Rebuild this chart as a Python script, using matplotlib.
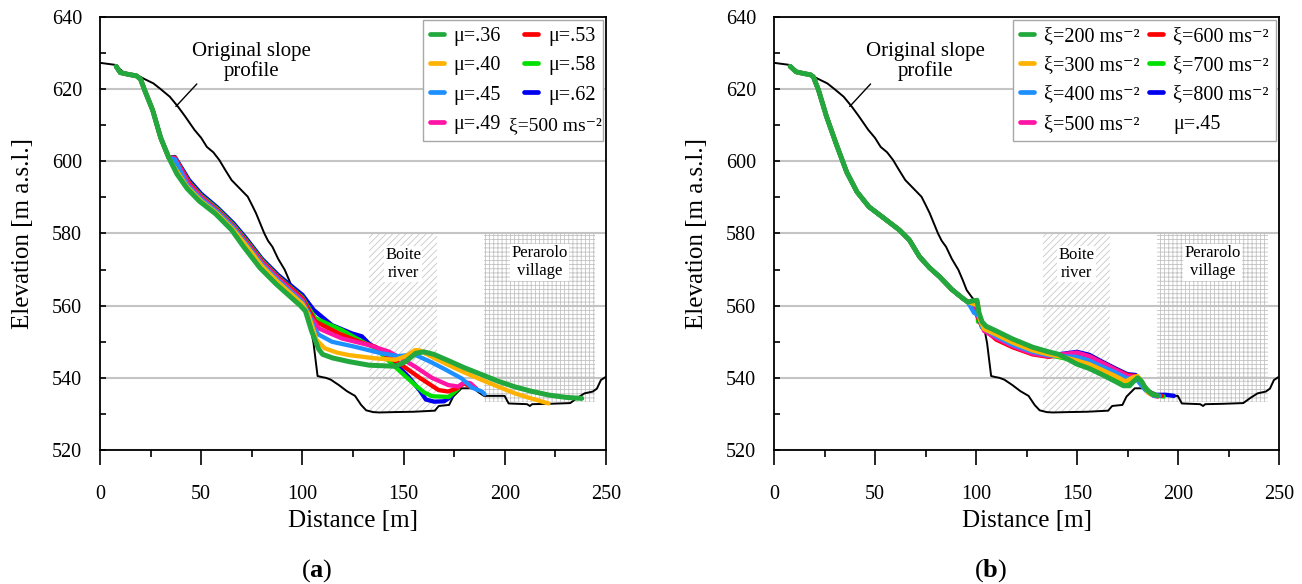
"""Runout profiles of the slope failure: sensitivity to mu (a) and xi (b)."""
import matplotlib
matplotlib.use("Agg")
import matplotlib.pyplot as plt
from matplotlib.lines import Line2D
from matplotlib.patches import Rectangle
from matplotlib.ticker import MultipleLocator

plt.rcParams.update({
    "font.family": ["Liberation Serif", "DejaVu Serif"],
    "mathtext.fontset": "custom",
    "mathtext.rm": "Liberation Serif",
    "mathtext.it": "Liberation Serif:italic",
    "mathtext.bf": "Liberation Serif:bold",
    "mathtext.default": "regular",
    "hatch.linewidth": 0.6,
})

# original slope profile (distance [m], elevation [m a.s.l.])
PROFILE = [(0, 627.3), (4, 627), (8, 626.7), (10, 625.5), (12, 624.5), (18, 624),
           (22, 622.8), (26.4, 621.6), (30, 620), (34.5, 617.9), (38.6, 615.1),
           (42, 612.5), (46.7, 608.7), (50, 606.5), (52.8, 604), (56, 602.5),
           (58.9, 600.4), (62, 597.5), (65, 594.8), (69, 592.5), (73, 590.2),
           (75, 588), (77.1, 585.6), (79, 583), (81.2, 580), (83, 578), (85.2, 576.3),
           (88, 573), (91.3, 569.9), (93.5, 567), (95.4, 564.3), (98, 562.3),
           (100, 561), (102, 558), (104, 554), (105.5, 549.6), (106.5, 545),
           (107.5, 540.5), (109.7, 540.2), (111.6, 540), (114, 539.5), (118, 538),
           (122, 536.3), (126, 535), (129, 532.5), (131.5, 531), (135, 530.5),
           (138, 530.4), (145, 530.5), (155, 530.6), (165.4, 530.9), (167.4, 532.2),
           (172.5, 532.5), (174.5, 534.8), (178.6, 537.1), (184.6, 537.1), (187, 536),
           (189.7, 535), (199.9, 535), (201.9, 532.9), (211, 532.7), (212.4, 532.2),
           (213.5, 532.7), (222, 532.8), (232.3, 533), (236, 534.5), (239.4, 535.7),
           (243.5, 536.2), (245.5, 537), (247.5, 539.4), (250, 540.3)]

# (a) friction coefficient mu, xi = 500 ms-2 ; common upper part of all runs
HEAD_A = [(8, 626.3), (10, 624.6), (14, 624.1), (18, 623.7), (20, 622.8), (22, 619.8),
          (26, 614.2), (30, 606.5), (34, 601)]
MU36 = [(38, 596.5), (43, 592.5), (49, 589), (57, 585.5), (65, 581), (71, 576.3),
        (79, 570.5), (87, 566), (95, 562), (99, 560), (101.5, 558.5), (104.5, 553),
        (108, 548), (110, 546.5), (115, 545.5), (123, 544.5), (133, 543.5),
        (146, 543.2), (151, 544.5), (156, 546.8), (160, 547.2), (165, 546.5),
        (172, 544.8), (180, 542.8), (189, 540.8), (197, 539), (205, 537.5),
        (213, 536.3), (222, 535.2), (230, 534.6), (238, 534.3)]
MU40 = [(36, 599), (43, 593), (50, 589), (58, 585.5), (66, 581), (72, 576.8), (80, 571),
        (88, 566.5), (96, 562.5), (100, 560.5), (103, 557.5), (105, 554), (107, 550.5),
        (111, 548.2), (117, 547), (123, 546.3), (136, 545.4), (146, 545), (151, 546),
        (155.7, 547.7), (158, 547.6), (165, 545.5), (172.3, 543.5), (180, 541.5),
        (188.7, 539.4), (197, 537.5), (205, 535.7), (213, 534.3), (221.6, 532.9)]
MU45 = [(37, 600.5), (43, 593.5), (50, 589.5), (58, 586), (66, 581.5), (72, 577.3),
        (80, 571.5), (88, 567), (96, 563), (100, 561), (103, 558), (106, 553.5),
        (108, 552), (114.6, 550), (126, 548.6), (139, 546.8), (147.6, 546), (152, 546.3),
        (156, 546.3), (163, 544.5), (170, 542.5), (178.8, 539.8), (183.7, 537.3),
        (188.7, 536.2), (190, 535.5)]
MU49 = [(37, 600.8), (44, 593.5), (50, 590), (58, 586.2), (66, 581.8), (72, 577.6),
        (80, 572), (88, 567.5), (96, 563.5), (100, 561.5), (104, 557), (108, 553.7),
        (119.6, 550.9), (132.7, 549.1), (142.6, 547.3), (150, 545), (155.7, 543.1),
        (164, 540), (172, 538), (177, 537.6), (180, 538.8), (183, 538.5), (186, 537)]
MU53 = [(37, 601), (44, 594), (50, 590.2), (58, 586.5), (66, 582), (72, 578),
        (80, 572.3), (88, 567.8), (96, 564), (100, 562), (104, 558), (106.4, 555.6),
        (118, 552.3), (128, 550), (136.1, 548.6), (142, 546), (149.2, 543.5), (158, 540),
        (167.3, 536.6), (172, 536.2), (176, 537), (178, 537.8), (180, 538.5),
        (183, 537.5)]
MU58 = [(37, 601), (44, 594.2), (50, 590.5), (58, 586.8), (66, 582.3), (72, 578.3),
        (80, 572.6), (88, 568), (96, 564.2), (100, 562.3), (103, 559.5), (106.4, 556.5),
        (119.6, 553.2), (128, 550.5), (136.1, 548.2), (145.9, 543), (155.7, 538),
        (160, 536), (164, 534.9), (172.3, 534.7), (175, 536), (177, 537)]
MU62 = [(37, 601.2), (44, 594.8), (50, 591), (58, 587.2), (66, 582.8), (72, 578.8),
        (80, 573), (88, 568.5), (96, 564.8), (100, 563), (105.6, 558.8), (114.6, 554.6),
        (124.5, 552.3), (129.4, 551.5), (132.7, 549.6), (142.6, 545.8), (152.4, 540.3),
        (158, 536.5), (161, 534), (165, 533.4), (170, 533.5), (174, 535)]

# (b) turbulence coefficient xi, mu = .45 ; common upper part of all runs
HEAD_B = [(8, 626.3), (11, 624.8), (15, 624.3), (18, 624), (19.5, 623.4), (22, 619.8),
          (26, 612.4), (31, 604.5), (36, 597), (41, 591.6), (47, 587.4), (55, 584),
          (62, 581), (67, 578.2), (72, 573.6), (77, 570.5), (82, 568), (88, 564.5),
          (93.5, 562), (96, 561)]
XI200 = [(98, 561.3), (100.5, 561.5), (101.5, 558), (103, 555.5), (105, 554.3),
         (110, 553), (118, 550.8), (128, 548.5), (136, 547.2), (141, 546.5),
         (145, 545.3), (150, 543.8), (156, 542.6), (162, 541), (169, 539),
         (173, 537.8), (176, 537.8), (178, 539), (180, 540), (182, 539), (184, 537),
         (187, 535.5), (190, 535)]
XI300 = [(101, 560), (102, 556), (104, 553.5), (110, 552), (118, 549.8), (128, 547.6),
         (136, 546.5), (143, 545.8), (150, 544.8), (156, 543.8), (162, 542.3),
         (169, 540.5), (174, 539), (178, 540.2), (180, 540.5), (182, 539), (185, 536),
         (187, 535.3)]
XI400 = [(98, 559), (99, 558), (101, 557.5), (103, 554), (110, 551.5), (118, 549.2),
         (128, 547.2), (136, 546.2), (143, 546), (150, 545.8), (156, 544.8),
         (162, 543.2), (169, 541.5), (175, 539.8), (179, 540), (181, 538.5),
         (184, 536.5), (188, 535), (191, 535)]
XI500 = [(100, 558), (102, 556), (104, 553), (110, 551), (118, 548.8), (128, 546.7),
         (136, 546), (142, 546.5), (150, 547), (156, 546), (162, 544.3), (169, 542.3),
         (175, 540.5), (179, 540.3), (182, 538), (185, 536), (188, 535), (190, 534.8)]
XI600 = [(100, 558), (103, 554), (110, 550.6), (118, 548.5), (128, 546.5),
         (136, 545.8), (142, 546.4), (150, 546.8), (156, 546), (162, 544.3),
         (169, 542.3), (175, 540.8), (179, 540.5), (182, 538.5), (185, 536.3),
         (189, 535), (192, 535)]
XI700 = [(99, 560.5), (100.5, 561), (101, 555.5), (102, 556.5), (104, 554), (110, 552),
         (118, 549.5), (128, 547.3), (136, 546.3), (143, 545.5), (150, 544.5),
         (156, 543.5), (162, 542), (169, 540.2), (174, 538.7), (178, 539.5),
         (181, 539.8), (183, 538), (186, 536), (189, 535.2), (193, 534.8)]
XI800 = [(100, 558.5), (103, 554.5), (110, 551.2), (118, 548.7), (128, 546.8),
         (136, 546.1), (142, 546.6), (150, 547.2), (156, 546.4), (162, 544.6),
         (169, 542.6), (175, 541), (179, 540.8), (182, 538.5), (185, 536.3),
         (189, 535.3), (194, 535.3), (198, 535)]

RUNS_A = [MU36, MU40, MU45, MU49, MU53, MU58, MU62]
LABELS_A = ["μ=.36", "μ=.40", "μ=.45", "μ=.49", "μ=.53", "μ=.58", "μ=.62"]
RUNS_B = [XI200, XI300, XI400, XI500, XI600, XI700, XI800]
LABELS_B = ["ξ=200 ms⁻²", "ξ=300 ms⁻²", "ξ=400 ms⁻²", "ξ=500 ms⁻²",
            "ξ=600 ms⁻²", "ξ=700 ms⁻²", "ξ=800 ms⁻²"]
COLORS = ["#22a83c", "#ffb300", "#1e8fff", "#ff14a5", "#ff0000", "#00e000", "#0000f0"]

BOITE = (133, 530.6, 166.5, 580)        # x0, y0, x1, y1 of hatched river zone
PERAROLO = (189.5, 533.4, 244.5, 580)   # village zone


def draw_panel(ax, head, runs, labels, extra, extra_in_legend, colspace):
    x0, y0, x1, y1 = BOITE
    ax.add_patch(Rectangle((x0, y0), x1 - x0, y1 - y0, facecolor="none",
                           edgecolor="#c8c8c8", linewidth=0, hatch="/////"))
    x0, y0, x1, y1 = PERAROLO
    ax.add_patch(Rectangle((x0, y0), x1 - x0, y1 - y0, facecolor="none",
                           edgecolor="#c2c2c2", linewidth=0, hatch="++++"))
    ax.text((BOITE[0] + BOITE[2]) / 2, 571.5, "Boite\nriver", fontsize=12,
            ha="center", va="center", linespacing=1.15,
            bbox=dict(facecolor="white", edgecolor="none", pad=1))
    ax.text((PERAROLO[0] + PERAROLO[2]) / 2, 572, "Perarolo\nvillage", fontsize=12,
            ha="center", va="center", linespacing=1.15,
            bbox=dict(facecolor="white", edgecolor="none", pad=1))

    px, py = zip(*PROFILE)
    ax.plot(px, py, color="black", lw=1.4, zorder=3)

    lines = []
    for run, lab, col in zip(runs, labels, COLORS):
        xs, ys = zip(*(head + run))
        ln, = ax.plot(xs, ys, color=col, lw=3.6 if col == COLORS[0] else 3.1,
                      solid_capstyle="round", solid_joinstyle="round", label=lab)
        lines.append(ln)
    # draw order: first run on top
    for i, ln in enumerate(lines):
        ln.set_zorder(10 - i)

    ax.annotate("Original slope\nprofile", xy=(37.5, 615.2), xytext=(75, 627.6),
                fontsize=15, ha="center", va="center", linespacing=1.0,
                arrowprops=dict(arrowstyle="-", color="black", lw=1.0,
                                shrinkA=0, shrinkB=0, relpos=(0.12, 0.2)))

    blank = Line2D([], [], color="none")
    handles = lines + [blank]
    leg_labels = labels + [extra if extra_in_legend else ""]
    leg = ax.legend(handles, leg_labels, ncol=2, loc="upper right", fontsize=14.5,
                    handlelength=0.7, handletextpad=0.5, columnspacing=colspace,
                    labelspacing=0.5, borderpad=0.35, borderaxespad=0.15,
                    fancybox=False, framealpha=1, edgecolor="#a8a8a8")
    leg.get_frame().set_linewidth(1.0)
    for h in leg.legend_handles:
        h.set_linewidth(3.4)
    leg.set_zorder(20)
    if not extra_in_legend:
        ax.text(202, 610.0, extra, fontsize=14, va="center", zorder=21)

    ax.set_xlim(0, 250)
    ax.set_ylim(520, 640)
    ax.xaxis.set_major_locator(MultipleLocator(50))
    ax.xaxis.set_minor_locator(MultipleLocator(25))
    ax.yaxis.set_major_locator(MultipleLocator(20))
    ax.yaxis.set_minor_locator(MultipleLocator(10))
    ax.tick_params(axis="x", which="major", direction="out", length=10.5, width=1.2,
                   pad=15, labelsize=14.5)
    ax.tick_params(axis="x", which="minor", direction="out", length=5, width=1.2)
    ax.tick_params(axis="y", which="both", direction="in", length=4, width=1.2,
                   pad=13, labelsize=14.5)
    ax.yaxis.grid(True, which="major", color="#c4c4c4", lw=1.5)
    ax.set_axisbelow(True)
    for sp in ax.spines.values():
        sp.set_linewidth(1.3)
    ax.set_xlabel("Distance [m]", fontsize=18)
    ax.set_ylabel("Elevation [m a.s.l.]", fontsize=18)
    ax.xaxis.set_label_coords(0.5, -0.138)
    ax.xaxis.label.set_verticalalignment("top")
    ax.yaxis.set_label_coords(-0.152, 0.5)
    ax.yaxis.label.set_verticalalignment("center")


fig = plt.figure(figsize=(13.02, 5.84), dpi=100)
ax_a = fig.add_axes([100 / 1302, 1 - 450 / 584, 506 / 1302, 433 / 584])
ax_b = fig.add_axes([774 / 1302, 1 - 450 / 584, 505 / 1302, 433 / 584])

draw_panel(ax_a, HEAD_A, RUNS_A, LABELS_A, "ξ=500 ms⁻²", False, 1.15)
draw_panel(ax_b, HEAD_B, RUNS_B, LABELS_B, "μ=.45", True, 0.45)

fig.text(317 / 1302, 1 - 571 / 584, r"($\mathbf{a}$)", fontsize=19,
         ha="center", va="center")
fig.text(991 / 1302, 1 - 571 / 584, r"($\mathbf{b}$)", fontsize=19,
         ha="center", va="center")

fig.savefig("out.png", dpi=100)
plt.close(fig)
